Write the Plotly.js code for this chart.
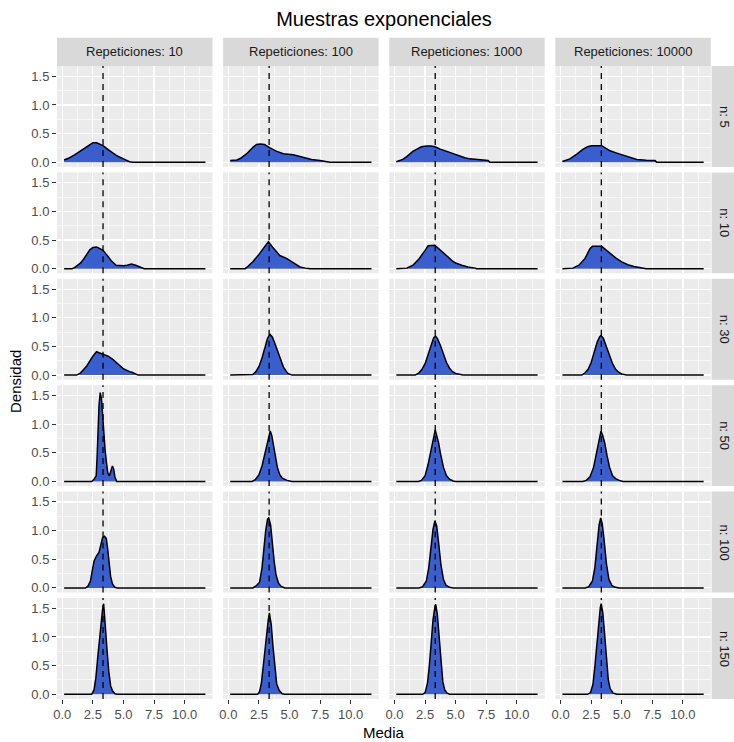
<!DOCTYPE html>
<html>
<head>
<meta charset="utf-8">
<script src="https://cdn.plot.ly/plotly-3.0.1.min.js"></script>
<style>html,body{margin:0;padding:0;background:#fff;}</style>
</head>
<body>
<div id="chart" style="width:734px;height:742px;"></div>
<script>
// ---------------- DATA ----------------
const repeticiones = [10, 100, 1000, 10000];
const tamanos = [5, 10, 30, 50, 100, 150];
const stripTop = ["Repeticiones: 10", "Repeticiones: 100", "Repeticiones: 1000", "Repeticiones: 10000"];
const stripRight = ["n: 5", "n: 10", "n: 30", "n: 50", "n: 100", "n: 150"];
const mediaTeorica = 3.33;
const xTickVals = [0, 2.5, 5, 7.5, 10];
const xTickText = ["0.0", "2.5", "5.0", "7.5", "10.0"];
const yTickVals = [0, 0.5, 1, 1.5];
const yTickText = ["0.0", "0.5", "1.0", "1.5"];

// density curves [media, densidad]
const n5_r10 = [[0.15,0.04],[0.5,0.07],[1.0,0.13],[1.5,0.2],[2.0,0.28],[2.25,0.32],[2.5,0.34],[2.8,0.34],[3.0,0.32],[3.33,0.29],[3.75,0.22],[4.17,0.16],[4.5,0.11],[5.0,0.06],[5.5,0.01],[5.8,0],[11.7,0]];
const n5_r100 = [[0.15,0.03],[0.7,0.04],[1.0,0.07],[1.5,0.15],[2.0,0.26],[2.3,0.31],[2.6,0.32],[2.95,0.31],[3.4,0.25],[3.95,0.19],[4.5,0.15],[5.0,0.145],[5.3,0.13],[5.85,0.1],[6.3,0.07],[6.8,0.05],[7.5,0.03],[8.16,0.01],[8.3,0],[11.7,0]];
const n5_r1000 = [[0.15,0.01],[0.68,0.05],[1.0,0.1],[1.5,0.19],[2.2,0.27],[2.6,0.285],[3.0,0.285],[3.3,0.27],[3.75,0.23],[4.25,0.19],[4.75,0.15],[5.33,0.11],[5.75,0.08],[6.15,0.06],[7.0,0.04],[7.65,0.03],[7.8,0],[11.7,0]];
const n5_r10000 = [[0.15,0.015],[0.76,0.06],[1.3,0.14],[1.85,0.23],[2.2,0.27],[2.54,0.29],[3.36,0.29],[3.7,0.25],[4.04,0.2],[4.6,0.16],[5.13,0.12],[5.7,0.08],[6.23,0.05],[7.0,0.035],[7.73,0.03],[7.85,0],[11.7,0]];

const n10_r10 = [[0.15,0],[0.8,0],[1.0,0.02],[1.5,0.1],[1.75,0.17],[2.0,0.26],[2.25,0.33],[2.5,0.37],[2.8,0.38],[3.0,0.36],[3.33,0.32],[3.6,0.25],[4.0,0.14],[4.4,0.06],[5.0,0.05],[5.3,0.06],[5.65,0.08],[6.0,0.06],[6.4,0.02],[6.7,0],[11.7,0]];
const n10_r100 = [[0.15,0],[1.37,0],[1.6,0.04],[2.0,0.12],[2.5,0.25],[3.0,0.4],[3.27,0.47],[3.6,0.38],[4.0,0.27],[4.2,0.23],[4.75,0.18],[5.3,0.1],[5.85,0.03],[6.3,0.01],[6.7,0],[11.7,0]];
const n10_r1000 = [[0.15,0],[0.87,0],[1.0,0.01],[1.5,0.06],[2.0,0.17],[2.5,0.32],[2.75,0.4],[3.3,0.41],[3.75,0.33],[4.0,0.27],[4.5,0.18],[4.75,0.13],[5.0,0.1],[5.5,0.06],[6.0,0.03],[6.6,0.01],[6.7,0],[11.7,0]];
const n10_r10000 = [[0.15,0],[0.9,0],[1.0,0.01],[1.5,0.06],[2.0,0.18],[2.4,0.35],[2.6,0.39],[3.35,0.39],[3.75,0.32],[4.0,0.27],[4.5,0.19],[5.0,0.12],[5.5,0.07],[6.0,0.04],[6.5,0.02],[6.9,0.01],[7.0,0],[11.7,0]];

const n30_r10 = [[0.15,0],[1.17,0],[1.5,0.04],[2.0,0.16],[2.5,0.33],[2.8,0.41],[3.0,0.39],[3.33,0.36],[3.75,0.33],[4.1,0.28],[4.5,0.2],[5.0,0.11],[5.5,0.06],[5.7,0.05],[6.2,0],[11.7,0]];
const n30_r100 = [[0.15,0],[1.9,0],[2.0,0.01],[2.25,0.06],[2.5,0.15],[2.75,0.3],[3.0,0.5],[3.2,0.64],[3.4,0.71],[3.6,0.66],[3.75,0.58],[4.0,0.43],[4.25,0.27],[4.5,0.14],[4.75,0.06],[4.87,0.03],[5.2,0],[11.7,0]];
const n30_r1000 = [[0.15,0],[1.7,0],[2.0,0.04],[2.25,0.1],[2.5,0.2],[2.75,0.36],[3.0,0.55],[3.2,0.65],[3.35,0.68],[3.5,0.64],[3.75,0.52],[4.0,0.36],[4.25,0.22],[4.5,0.12],[4.75,0.06],[5.0,0.03],[5.5,0.01],[5.6,0],[11.7,0]];
const n30_r10000 = [[0.15,0],[1.74,0],[2.0,0.04],[2.25,0.1],[2.5,0.22],[2.75,0.4],[3.0,0.58],[3.2,0.67],[3.3,0.69],[3.5,0.64],[3.75,0.5],[4.0,0.34],[4.25,0.2],[4.5,0.1],[4.75,0.05],[5.0,0.02],[5.4,0],[11.7,0]];

const n50_r10 = [[0.15,0],[2.4,0],[2.6,0.04],[2.77,0.1],[2.85,0.45],[2.92,1.0],[3.0,1.32],[3.1,1.55],[3.2,1.45],[3.3,1.15],[3.4,0.8],[3.5,0.55],[3.6,0.35],[3.72,0.15],[3.85,0.1],[4.0,0.2],[4.1,0.27],[4.2,0.22],[4.3,0.08],[4.45,0],[11.7,0]];
const n50_r100 = [[0.15,0],[1.93,0],[2.2,0.03],[2.5,0.12],[2.75,0.27],[3.0,0.5],[3.2,0.72],[3.33,0.85],[3.42,0.88],[3.55,0.8],[3.7,0.62],[3.85,0.42],[4.0,0.25],[4.2,0.12],[4.4,0.06],[4.8,0.02],[5.2,0],[11.7,0]];
const n50_r1000 = [[0.15,0],[1.95,0],[2.2,0.02],[2.5,0.1],[2.75,0.3],[3.0,0.58],[3.2,0.8],[3.33,0.9],[3.45,0.8],[3.6,0.68],[3.75,0.5],[4.0,0.25],[4.25,0.1],[4.5,0.04],[4.8,0.01],[5.0,0],[11.7,0]];
const n50_r10000 = [[0.15,0],[1.8,0],[2.1,0.02],[2.4,0.08],[2.7,0.25],[3.0,0.58],[3.2,0.8],[3.3,0.88],[3.45,0.8],[3.6,0.68],[3.8,0.45],[4.0,0.25],[4.25,0.1],[4.5,0.05],[4.8,0.02],[5.1,0],[11.7,0]];

const n100_r10 = [[0.15,0],[1.9,0],[2.1,0.03],[2.3,0.12],[2.45,0.3],[2.6,0.47],[2.8,0.56],[3.0,0.62],[3.15,0.75],[3.3,0.88],[3.45,0.9],[3.6,0.86],[3.7,0.7],[3.8,0.45],[3.95,0.2],[4.1,0.07],[4.3,0.01],[4.5,0],[11.7,0]];
const n100_r100 = [[0.15,0],[2.0,0],[2.3,0.04],[2.55,0.1],[2.75,0.35],[2.9,0.7],[3.05,1.0],[3.2,1.2],[3.3,1.22],[3.45,1.1],[3.6,0.75],[3.75,0.45],[3.9,0.22],[4.1,0.08],[4.3,0.03],[4.6,0],[11.7,0]];
const n100_r1000 = [[0.15,0],[2.0,0],[2.3,0.02],[2.6,0.12],[2.8,0.35],[3.0,0.75],[3.15,1.02],[3.3,1.17],[3.45,1.08],[3.6,0.8],[3.8,0.4],[4.0,0.15],[4.2,0.05],[4.5,0.01],[4.8,0],[11.7,0]];
const n100_r10000 = [[0.15,0],[2.0,0],[2.3,0.02],[2.6,0.12],[2.8,0.35],[3.0,0.8],[3.15,1.1],[3.28,1.22],[3.4,1.12],[3.55,0.85],[3.75,0.42],[3.95,0.15],[4.2,0.04],[4.5,0.01],[4.8,0],[11.7,0]];

const n150_r10 = [[0.15,0],[2.4,0],[2.6,0.08],[2.75,0.3],[2.9,0.65],[3.05,1.0],[3.2,1.3],[3.3,1.5],[3.38,1.58],[3.45,1.35],[3.52,1.1],[3.65,0.8],[3.8,0.4],[3.95,0.15],[4.1,0.06],[4.3,0.01],[4.5,0],[11.7,0]];
const n150_r100 = [[0.15,0],[2.4,0],[2.55,0.05],[2.7,0.2],[2.88,0.55],[3.05,0.95],[3.18,1.25],[3.25,1.28],[3.35,1.42],[3.5,1.22],[3.64,0.85],[3.8,0.45],[3.95,0.18],[4.15,0.07],[4.4,0.01],[4.6,0],[11.7,0]];
const n150_r1000 = [[0.15,0],[2.3,0],[2.5,0.03],[2.7,0.2],[2.85,0.5],[3.0,0.9],[3.15,1.3],[3.3,1.52],[3.37,1.57],[3.5,1.4],[3.65,1.0],[3.8,0.55],[3.95,0.22],[4.1,0.08],[4.3,0.02],[4.5,0],[11.7,0]];
const n150_r10000 = [[0.15,0],[2.2,0],[2.45,0.03],[2.65,0.18],[2.8,0.48],[2.95,0.88],[3.1,1.28],[3.25,1.52],[3.32,1.58],[3.45,1.42],[3.6,1.05],[3.75,0.6],[3.9,0.25],[4.05,0.1],[4.3,0.02],[4.6,0],[11.7,0]];

const curvas = [
  [n5_r10, n5_r100, n5_r1000, n5_r10000],
  [n10_r10, n10_r100, n10_r1000, n10_r10000],
  [n30_r10, n30_r100, n30_r1000, n30_r10000],
  [n50_r10, n50_r100, n50_r1000, n50_r10000],
  [n100_r10, n100_r100, n100_r1000, n100_r10000],
  [n150_r10, n150_r100, n150_r1000, n150_r10000]
];

// ---------------- LAYOUT ----------------
const W = 734, H = 742;
const FONT = "Liberation Sans, Arial, Helvetica, sans-serif";
const xRange = [-0.43, 12.28];
const yRange = [-0.08, 1.68];
const pxPerX = 12.23, pxPerY = 57.33;
const colX0 = c => 62.3 + 166.1 * c;   // pixel of x=0
const rowY0 = r => 162.3 + 106.4 * r;  // pixel of y=0
const fx = p => p / W;
const fy = p => 1 - p / H;

const traces = [];
const layout = {
  width: W, height: H,
  margin: {l: 0, r: 0, t: 0, b: 0},
  paper_bgcolor: "white",
  plot_bgcolor: "#EBEBEB",
  showlegend: false,
  hovermode: false,
  font: {family: FONT, color: "#1A1A1A"},
  title: {
    text: "Muestras exponenciales",
    x: fx(384), xanchor: "center", xref: "paper",
    y: fy(19), yanchor: "middle", yref: "container",
    font: {size: 20, color: "#000000", family: FONT}
  },
  shapes: [],
  annotations: []
};

let idx = 0;
for (let r = 0; r < tamanos.length; r++) {
  for (let c = 0; c < repeticiones.length; c++) {
    idx++;
    const sfx = idx === 1 ? "" : String(idx);
    const xa = "x" + sfx, ya = "y" + sfx;
    const left = colX0(c) + xRange[0] * pxPerX;
    const right = colX0(c) + xRange[1] * pxPerX;
    const bottom = rowY0(r) - yRange[0] * pxPerY;
    const top = rowY0(r) - yRange[1] * pxPerY;
    const data = curvas[r][c];
    traces.push({
      type: "scatter", mode: "lines",
      x: data.map(d => d[0]), y: data.map(d => d[1]),
      xaxis: xa, yaxis: ya,
      fill: "tozeroy", fillcolor: "#3A5FCD",
      line: {color: "#000000", width: 1.5},
      hoverinfo: "skip"
    });
    const showX = r === tamanos.length - 1;
    const showY = c === 0;
    layout["xaxis" + sfx] = {
      domain: [fx(left), fx(right)], anchor: ya,
      range: xRange, fixedrange: true,
      tickmode: "array", tickvals: xTickVals, ticktext: xTickText,
      showticklabels: showX, ticks: showX ? "outside" : "",
      ticklen: 4, tickwidth: 1, tickcolor: "#333333",
      tickfont: {size: 13, color: "#4D4D4D", family: FONT},
      showgrid: true, gridcolor: "#FFFFFF", gridwidth: 1.2,
      minor: {tickmode: "linear", tick0: 0, dtick: 1.25, showgrid: true, gridcolor: "#FFFFFF", gridwidth: 0.6, ticks: ""},
      zeroline: false, showline: false
    };
    layout["yaxis" + sfx] = {
      domain: [fy(bottom), fy(top)], anchor: xa,
      range: yRange, fixedrange: true,
      tickmode: "array", tickvals: yTickVals, ticktext: yTickText,
      showticklabels: showY, ticks: showY ? "outside" : "",
      ticklen: 4, tickwidth: 1, tickcolor: "#333333",
      tickfont: {size: 13, color: "#4D4D4D", family: FONT},
      showgrid: true, gridcolor: "#FFFFFF", gridwidth: 1.2,
      minor: {tickmode: "linear", tick0: 0, dtick: 0.25, showgrid: true, gridcolor: "#FFFFFF", gridwidth: 0.6, ticks: ""},
      zeroline: false, showline: false
    };
    layout.shapes.push({
      type: "line", xref: xa, yref: ya + " domain",
      x0: mediaTeorica, x1: mediaTeorica, y0: 0, y1: 1,
      line: {color: "#000000", width: 1.3, dash: "6px,5px"},
      layer: "above"
    });
    // top strips
    if (r === 0) {
      layout.shapes.push({
        type: "rect", xref: "paper", yref: "paper",
        x0: fx(left), x1: fx(right), y0: fy(top), y1: fy(37.7),
        fillcolor: "#D9D9D9", line: {width: 0}, layer: "below"
      });
      layout.annotations.push({
        xref: "paper", yref: "paper",
        x: fx((left + right) / 2), y: fy((top + 37.7) / 2),
        xanchor: "center", yanchor: "middle", showarrow: false,
        text: stripTop[c], font: {size: 13, color: "#1A1A1A", family: FONT}
      });
    }
    // right strips
    if (c === repeticiones.length - 1) {
      layout.shapes.push({
        type: "rect", xref: "paper", yref: "paper",
        x0: fx(right + 0.8), x1: fx(740), y0: fy(bottom), y1: fy(top),
        fillcolor: "#D9D9D9", line: {width: 0}, layer: "below"
      });
      layout.annotations.push({
        xref: "paper", yref: "paper",
        x: fx(724.5), y: fy((top + bottom) / 2),
        xanchor: "center", yanchor: "middle", showarrow: false,
        textangle: 90,
        text: stripRight[r], font: {size: 13, color: "#1A1A1A", family: FONT}
      });
    }
  }
}

// axis titles
layout.annotations.push({
  xref: "paper", yref: "paper", x: fx(384), y: fy(732),
  xanchor: "center", yanchor: "middle", showarrow: false,
  text: "Media", font: {size: 15, color: "#000000", family: FONT}
});
layout.annotations.push({
  xref: "paper", yref: "paper", x: fx(15), y: fy(382),
  xanchor: "center", yanchor: "middle", showarrow: false, textangle: -90,
  text: "Densidad", font: {size: 15, color: "#000000", family: FONT}
});

Plotly.newPlot("chart", traces, layout, {staticPlot: true, displayModeBar: false});
</script>
</body>
</html>
